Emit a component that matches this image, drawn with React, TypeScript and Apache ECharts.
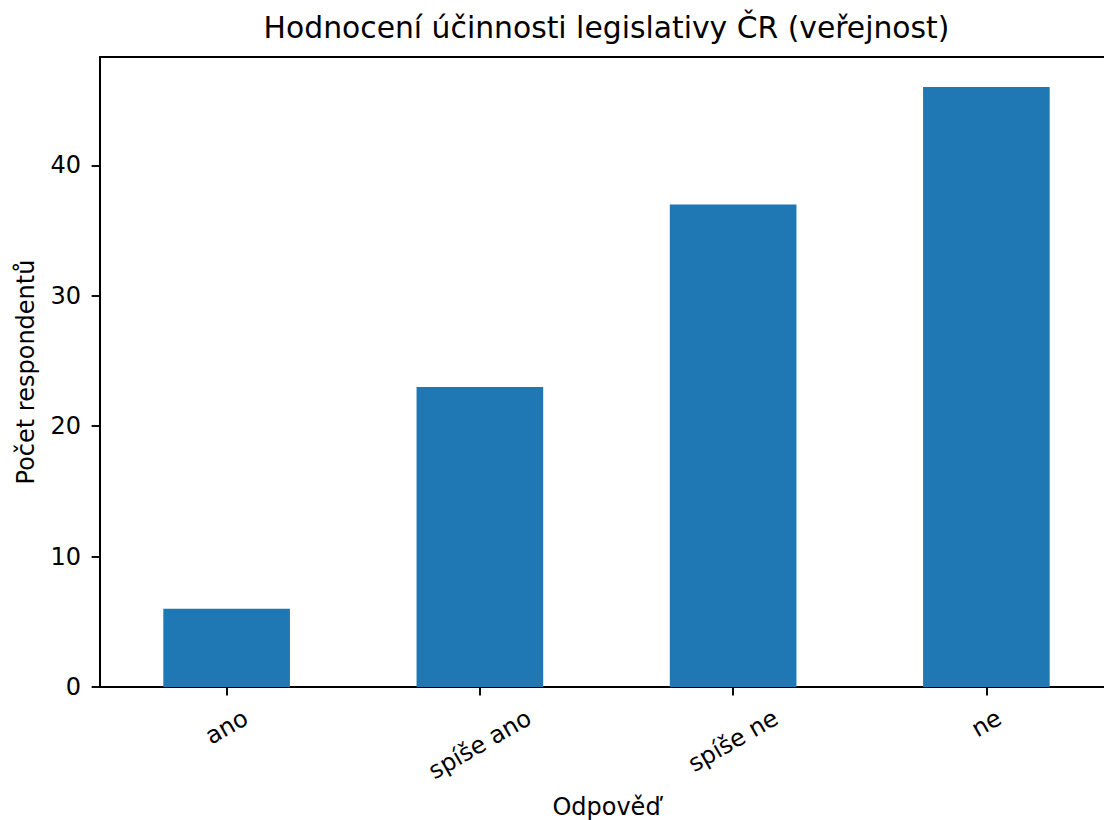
import React, { useEffect, useRef } from "react";
import * as echarts from "echarts";

const categories = ["ano", "spíše ano", "spíše ne", "ne"];
const counts = [6, 23, 37, 46];
const yTicks = [0, 10, 20, 30, 40];

const TITLE = "Hodnocení účinnosti legislativy ČR (veřejnost)";
const X_NAME = "Odpověď";
const Y_NAME = "Počet respondentů";

const FONT = "DejaVu Sans";
const TICK_FS = 24;
const TITLE_FS = 29.8;
const INK = "#000";
const BAR = "#1f77b4";

function measure(text: string, size: number): number {
  const ctx = document.createElement("canvas").getContext("2d");
  if (!ctx) return text.length * size * 0.6;
  ctx.font = `${size}px "${FONT}"`;
  return ctx.measureText(text).width;
}

export default function App() {
  const ref = useRef<HTMLDivElement>(null);

  useEffect(() => {
    if (!ref.current) return;
    const chart = echarts.init(ref.current, null, { renderer: "svg" });

    // matplotlib: rotated label centred on its tick, its bounding box hanging
    // below the tick + pad. Centre offset below the axis: Y = 28.9 + w/4.
    const LINE_H = TICK_FS;
    const xData = categories.map((c) => {
      const w = measure(c, TICK_FS);
      const Y = 28.9 + w / 4;
      return {
        value: c,
        textStyle: {
          align: "center",
          verticalAlign: "top",
          lineHeight: LINE_H,
          padding: [Math.max(0, 0.866 * Y - LINE_H / 2), Y, 0, 0],
        },
      };
    });

    const axisLine = { show: true, lineStyle: { color: INK, width: 1.9 } };
    const axisTick = { show: true, length: 8.4, lineStyle: { color: INK, width: 1.9 } };

    chart.setOption({
      animation: false,
      title: {
        text: TITLE,
        left: 606.5,
        top: 12,
        textAlign: "center",
        padding: 0,
        textStyle: { fontFamily: FONT, fontSize: TITLE_FS, fontWeight: "normal", color: INK },
      },
      grid: {
        left: 100,
        right: -9,
        top: 57,
        bottom: 133,
        show: true,
        borderColor: INK,
        borderWidth: 1.9,
        containLabel: false,
        outerBoundsMode: "none",
      },
      xAxis: {
        type: "category",
        data: xData,
        name: X_NAME,
        nameLocation: "middle",
        nameGap: 108,
        nameMoveOverlap: false,
        nameTextStyle: { fontFamily: FONT, fontSize: TICK_FS, color: INK },
        axisLine,
        axisTick: { ...axisTick, alignWithLabel: true },
        axisLabel: {
          interval: 0,
          rotate: 30,
          margin: 0,
          fontFamily: FONT,
          fontSize: TICK_FS,
          color: INK,
        },
        splitLine: { show: false },
      },
      yAxis: {
        type: "value",
        min: 0,
        max: Math.max(...counts) * 1.05,
        interval: 10,
        name: Y_NAME,
        nameLocation: "middle",
        nameGap: 62,
        nameMoveOverlap: false,
        nameTextStyle: { fontFamily: FONT, fontSize: TICK_FS, color: INK },
        axisLine,
        axisTick: { ...axisTick, customValues: yTicks },
        axisLabel: {
          customValues: yTicks,
          margin: 19,
          fontFamily: FONT,
          fontSize: TICK_FS,
          color: INK,
        },
        splitLine: { show: false },
      },
      series: [
        {
          type: "bar",
          data: counts,
          barWidth: "50%",
          itemStyle: { color: BAR },
        },
      ],
    });

    return () => chart.dispose();
  }, []);

  return (
    <div
      ref={ref}
      style={{ position: "absolute", left: 0, top: 0, width: 1104, height: 820 }}
    />
  );
}
